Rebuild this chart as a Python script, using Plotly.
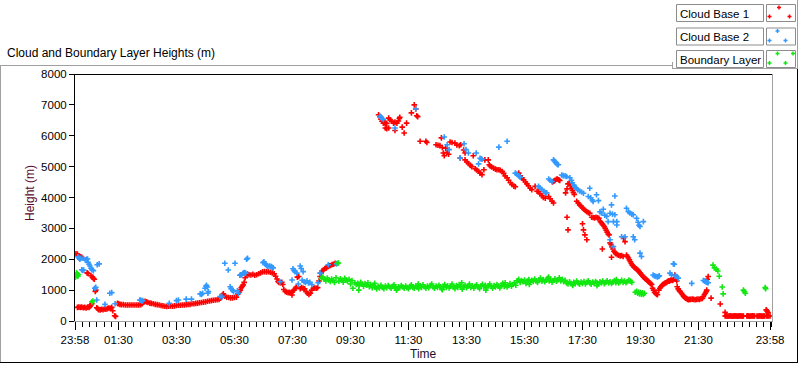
import plotly.graph_objects as go

# ---------------- data ----------------
tick_labels = ["23:58", "01:30", "03:30", "05:30", "07:30", "09:30", "11:30",
               "13:30", "15:30", "17:30", "19:30", "21:30", "23:58"]

cb1_time = [
    "00:02", "00:05", "00:08", "00:11", "00:14", "00:25", "00:27", "00:33", "00:36", "00:38", "00:40", "00:42", "00:43",
    "00:05", "00:08", "00:11", "00:14", "00:17", "00:20", "00:23", "00:26", "00:29", "00:31", "00:33", "00:35",
    "00:45", "00:47", "00:49", "00:52", "00:55", "00:58", "01:01", "01:04", "01:07", "01:10", "01:13", "01:16", "01:18", "01:22", "01:24",
    "01:28", "01:30", "01:33", "01:36", "01:40", "01:44", "01:48", "01:52", "01:56", "02:00", "02:04", "02:08", "02:12", "02:16", "02:19",
    "02:22", "02:25", "02:28", "02:31", "02:35", "02:38", "02:42", "02:46", "02:50", "02:54", "02:58", "03:02", "03:06", "03:10",
    "03:14", "03:18", "03:22", "03:26", "03:30", "03:34", "03:38", "03:42", "03:46", "03:50", "03:54", "03:58", "04:02", "04:06",
    "04:10", "04:14", "04:18", "04:22", "04:26", "04:30", "04:34", "04:38", "04:42", "04:46", "04:50", "04:54", "04:58",
    "05:01", "05:03", "05:05", "05:07", "05:10", "05:14", "05:18", "05:22", "05:26", "05:30", "05:34", "05:37", "05:40", "05:42",
    "05:44", "05:46", "05:48", "05:50", "05:52", "05:54", "05:57", "06:00", "06:04", "06:08", "06:12", "06:16", "06:20", "06:24",
    "06:28", "06:32", "06:36", "06:40", "06:44", "06:48", "06:52", "06:55", "06:58", "07:00", "07:02", "07:05", "07:08", "07:10",
    "07:12", "07:15", "07:18", "07:21", "07:24", "07:27", "07:29", "07:30", "07:33", "07:36", "07:38", "07:40", "07:43", "07:46",
    "07:49", "07:52", "07:55", "07:58", "08:01", "08:04", "08:07", "08:10", "08:13", "08:16", "08:19", "08:22", "08:25", "08:27",
    "08:29", "08:31", "08:34", "08:37", "08:40", "08:43", "08:46", "08:49", "08:52", "08:55", "08:58",
    "10:28", "10:31", "10:33", "10:35", "10:38", "10:40", "10:42", "10:45", "10:49", "10:52", "10:55", "10:59", "11:02", "11:06",
    "11:09", "11:11", "11:12", "10:42", "10:45", "10:49", "11:02", "11:17", "11:21", "11:26", "11:36", "11:42", "11:45", "11:47",
    "11:49", "11:54", "12:06", "12:08", "12:27", "12:31", "12:35", "12:38", "12:40", "12:42", "12:44", "12:47", "12:50", "12:53",
    "12:56", "13:00", "13:06", "13:10", "13:15", "13:18", "13:17", "13:24", "13:27", "13:27", "13:31", "13:34", "13:38", "13:41",
    "13:44", "13:48", "13:51", "13:55", "13:58", "14:02", "14:06", "14:08", "14:15", "14:17", "14:19", "14:22", "14:26", "14:30",
    "14:33", "14:37", "14:40", "14:44", "14:47", "14:50", "14:54", "14:57", "15:01", "15:04", "15:08", "15:11", "15:18", "15:21",
    "15:25", "15:28", "15:32", "15:35", "15:38", "15:42", "15:45", "15:52", "15:56", "15:59", "16:02", "16:06", "16:09", "16:13",
    "16:20", "16:23", "16:27", "16:30",
    "16:28", "16:31", "16:33", "16:36", "16:38", "16:41", "16:43", "16:55", "16:58", "17:00", "17:03", "17:05", "17:07", "17:09",
    "17:11", "17:13", "17:18", "17:21", "17:24", "17:27", "17:30", "17:33", "17:36", "17:39", "17:42", "17:45", "17:49", "17:52",
    "17:55", "17:58", "18:01", "18:04", "16:58", "17:00", "17:30", "17:32", "17:35", "17:39",
    "18:07", "18:09", "18:11", "18:13", "18:15", "18:17", "18:19", "18:21", "18:23", "18:25", "18:11", "18:27", "18:29", "18:31",
    "18:33", "18:35", "18:37", "18:30", "18:39", "18:42", "18:45", "18:48", "18:51", "18:54", "18:55", "18:58",
    "19:01", "19:03", "19:05", "19:07", "19:09", "19:11", "19:13", "19:15", "19:17", "19:19", "19:21", "19:23", "19:25",
    "19:27", "19:29", "19:31", "19:33", "19:35", "19:37", "19:39", "19:41", "19:43", "19:45", "19:47", "19:49", "19:51", "19:53",
    "19:55", "19:57", "19:59", "20:01", "20:03", "20:05", "20:08", "20:10", "20:12", "20:14", "20:16", "20:18", "20:20", "20:22",
    "20:24", "20:26", "20:28", "20:30", "20:32", "20:34", "20:36", "20:38", "20:41", "20:43", "20:45", "20:46", "20:48", "20:50",
    "20:52", "20:55", "20:57", "20:59", "21:01", "21:03", "21:05", "21:07", "21:09", "21:11", "21:14", "21:17", "21:20", "21:23",
    "21:26", "21:29", "21:32", "21:35", "21:38", "21:40", "21:42", "21:44", "21:46", "21:47", "21:48", "21:50", "21:56",
    "22:15", "22:25",
    "22:25", "22:27", "22:29", "22:31", "22:33", "22:35", "22:37", "22:39", "22:41", "22:43", "22:45", "22:47", "22:49", "22:51",
    "22:53", "22:55", "22:57", "22:59", "23:01", "23:03", "23:10", "23:12", "23:14", "23:16", "23:18", "23:20", "23:22", "23:24",
    "23:26", "23:31", "23:33", "23:35", "23:37", "23:39", "23:41", "23:43", "23:45", "23:47", "23:51", "23:53", "23:55", "23:58",
    "23:50", "23:52", "23:54",
]
cb1_height = [
    2180, 2170, 2100, 2080, 2060, 1560, 1540, 1470, 1420, 1380, 1350, 960, 1000,
    440, 450, 440, 450, 430, 440, 420, 450, 440, 470, 520, 560,
    430, 400, 370, 360, 380, 370, 390, 380, 400, 420, 410, 440, 330, 170, 150,
    570, 560, 540, 530, 530, 520, 520, 520, 520, 520, 520, 520, 520, 530, 560,
    610, 640, 620, 600, 580, 570, 560, 540, 530, 520, 500, 490, 480, 470,
    480, 490, 480, 490, 500, 510, 510, 520, 520, 530, 540, 540, 560, 560,
    570, 580, 590, 600, 610, 620, 640, 650, 660, 670, 680, 690, 700,
    740, 780, 840, 880, 800, 770, 760, 750, 750, 760, 770, 880, 940, 1000,
    1080, 1120, 1170, 1250, 1400, 1500, 1520, 1500, 1490, 1510, 1480, 1500, 1530, 1560,
    1590, 1600, 1590, 1600, 1580, 1560, 1530, 1450, 1360, 1280, 1250, 1240, 1250, 1180,
    1020, 960, 930, 920, 930, 910, 840, 950, 1000, 1060, 1100, 1420, 1440, 1050,
    1080, 1060, 1040, 950, 900, 860, 900, 1000, 1060, 1070, 1060, 1080, 1300, 1440,
    1550, 1620, 1650, 1700, 1720, 1760, 1790, 1800, 1830, 1840, 1870,
    6680, 6620, 6540, 6470, 6410, 6430, 6410, 6400, 6570, 6520, 6470, 6410, 6440, 6410,
    6480, 6560, 6600, 6250, 6230, 6250, 6170, 6280, 6090, 6410, 6740, 7000, 6870, 6650,
    6620, 5820, 5820, 5780, 5710, 5690, 5680, 5930, 5620, 5440, 5350, 5600, 5460, 5400,
    5800, 5780, 5760, 5700, 5680, 5710, 5280, 5540, 5440, 5220, 5150, 5100, 5040, 5000,
    5350, 4930, 4890, 4850, 4790, 4740, 4900, 5220, 5220, 5060, 5020, 4990, 4950, 4920,
    4900, 4900, 4880, 4840, 4780, 4700, 4640, 4560, 4480, 4420, 4370, 4350, 4790, 4700,
    4630, 4570, 4500, 4440, 4380, 4300, 4250, 4360, 4200, 4190, 4120, 4060, 4000, 3980,
    4030, 3960, 3880, 3820,
    4500, 4530, 4560, 4590, 4600, 4570, 4550, 4150, 4280, 4440, 4460, 4380, 4300, 4230,
    4160, 4100, 3880, 3820, 3760, 3720, 3660, 3620, 3580, 3540, 3510, 3490, 3360, 3350,
    3340, 3360, 3340, 3330, 3360, 2950, 3150, 2950, 2790, 2630,
    3220, 3180, 3140, 3100, 3060, 3000, 2940, 2880, 2820, 2790, 2330, 2530, 2480, 2400,
    2330, 2260, 2220, 2065, 2180, 2150, 2130, 2110, 2120, 2090, 2680, 2570,
    2140, 2090, 2040, 1980, 1920, 1860, 1810, 1780, 1740, 1710, 1690, 1670, 1640,
    1600, 1560, 1520, 1480, 1440, 1410, 1380, 1360, 1330, 1300, 1270, 1240, 1210, 1180,
    1060, 1000, 930, 900, 870, 850, 1000, 1060, 1110, 1150, 1180, 1200, 1220, 1240,
    1250, 1280, 1300, 1290, 1320, 1330, 1310, 1340, 1490, 1350, 1300, 1110, 1040, 990,
    950, 900, 850, 800, 770, 740, 730, 710, 690, 700, 700, 710, 700, 690,
    700, 710, 700, 720, 730, 790, 850, 900, 950, 1000, 1350, 1440, 740,
    550, 280,
    160, 165, 160, 155, 160, 165, 160, 160, 155, 160, 165, 160, 160, 155,
    160, 165, 160, 160, 155, 160, 160, 165, 160, 155, 160, 160, 165, 160,
    160, 160, 155, 160, 165, 160, 160, 155, 160, 160, 160, 165, 160, 160,
    360, 320, 270,
]

cb2_time = [
    "00:06", "00:08", "00:10", "00:12", "00:14", "00:16", "00:18", "00:17", "00:21", "00:24", "00:26", "00:27", "00:29", "00:31",
    "00:33", "00:35", "00:38", "00:41", "00:43", "00:45", "00:46", "00:50", "01:02", "01:12", "01:16", "01:23",
    "02:14", "02:16", "02:18", "02:20", "03:15", "03:30", "03:34", "03:50", "04:01",
    "04:19", "04:22", "04:24", "04:29", "04:31", "04:32", "04:34", "04:35", "04:36",
    "05:00", "05:04", "05:10", "05:17", "05:21", "05:23", "05:26", "05:28", "05:31", "05:36", "05:38", "05:41", "05:43", "05:45",
    "05:47", "05:49", "05:51", "05:53", "05:55", "05:57",
    "06:29", "06:31", "06:33", "06:35", "06:37", "06:39", "06:43", "06:46", "06:48", "06:50",
    "07:04", "07:29", "07:31", "07:33", "07:35", "07:39", "07:42", "07:46", "07:48", "07:50", "07:52", "07:54", "07:57", "08:00",
    "08:03", "08:06", "08:10", "08:23", "08:27", "08:44", "09:01",
    "10:31", "10:33", "10:35", "10:38", "11:02", "11:45", "12:44", "12:50", "12:54", "13:17", "13:25", "13:29", "13:34", "13:50",
    "13:55", "13:58", "14:00", "14:02", "14:37", "14:54", "15:11", "15:14", "15:18", "15:21", "15:59", "16:02", "16:06", "16:10",
    "16:13", "16:16", "16:20", "16:23", "16:27", "16:30", "16:32", "16:34", "16:36", "16:38", "16:40", "16:47", "16:50", "16:54",
    "16:57", "17:04", "17:07", "17:09", "17:12", "17:14", "17:17", "17:20", "17:24", "17:28", "17:32", "17:42", "17:45", "17:47",
    "17:50", "17:52", "17:59", "18:03", "18:06", "18:09", "18:13", "18:16", "18:20", "18:23", "18:27", "18:27", "18:30", "18:32",
    "18:34", "18:34", "18:37", "18:37", "18:41", "18:41", "18:51", "18:58", "19:01", "19:05", "19:08", "19:12", "19:15", "19:15",
    "19:18", "19:22", "19:25", "19:27", "19:29", "19:29", "19:32", "19:36",
    "19:56", "19:59", "20:02", "20:05", "20:07", "20:09", "20:31", "20:34", "20:38", "20:40", "20:42", "20:45", "20:48",
    "21:16", "21:40", "21:43", "21:46", "21:48", "21:50",
]
cb2_height = [
    2080, 2040, 2000, 2030, 1660, 1640, 1650, 2030, 1980, 2000, 2010, 1900, 1840, 1780,
    1710, 1660, 1630, 1060, 1090, 680, 1820, 1850, 540, 900, 920, 560,
    680, 670, 650, 660, 570, 660, 680, 710, 710,
    880, 860, 900, 1060, 1120, 1160, 1100, 900, 950,
    790, 790, 1870, 1650, 1110, 1050, 1000, 950, 1870, 980, 900, 1480, 1500, 1490,
    1540, 1560, 1570, 1550, 2000, 2030,
    1890, 1920, 1860, 1830, 1790, 1770, 1780, 1760, 1740, 1720,
    1270, 1330, 1690, 1640, 1600, 1550, 1200, 1780, 1700, 1320, 1600, 1270, 1250, 1300,
    1230, 1250, 1180, 1240, 1550, 1820, 1850,
    6640, 6600, 6560, 6530, 6250, 6870, 5960, 5710, 5550, 5280, 5740, 5550, 5440, 5440,
    5090, 5270, 5250, 5240, 5630, 5820, 4790, 4760, 4700, 4660, 4360, 4310, 4260, 4200,
    4160, 4150, 4600, 4560, 4520, 5220, 5180, 5150, 5100, 5070, 5060, 4730, 4710, 4700,
    4680, 4640, 4560, 4480, 4400, 4350, 4300, 4250, 4210, 4180, 4140, 4030, 4300, 3990,
    3920, 3870, 4090, 3900, 3540, 3500, 3620, 3430, 3390, 3220, 2630, 3490, 3760, 3460,
    3220, 2410, 3440, 4050, 3110, 3220, 2730, 2730, 3650, 3540, 3500, 3460, 3440, 2730,
    2630, 3330, 3200, 3100, 3060, 2200, 2090, 3220,
    1490, 1460, 1440, 1430, 1440, 1460, 1550, 1500, 1850, 1840, 1470, 1440, 1390,
    1220, 1310, 1290, 1260, 1250, 1240,
]

bl_time = [
    "00:01", "00:02", "00:03", "00:04", "00:05", "00:06", "00:07", "00:35", "00:37",
    "08:30", "08:33", "08:36", "08:39", "08:42", "08:45", "08:48", "08:51", "08:54", "08:57", "09:00", "09:03", "09:05",
    "09:06", "09:09", "09:12", "09:15", "09:18", "09:21", "09:24", "09:27", "09:30", "09:33", "09:35", "09:39", "09:42",
    "09:45", "09:48", "09:51", "09:54", "09:57", "10:00", "10:03", "10:06", "10:09", "10:12", "10:15", "10:18", "10:21",
    "10:24", "10:27", "10:30", "10:33", "10:36", "10:39", "10:42", "10:45", "10:48", "10:51", "10:54", "10:57", "11:00",
    "11:03", "11:06", "11:09", "11:12", "11:15", "11:18", "11:21", "11:24", "11:27", "11:30", "11:33", "11:36", "11:39",
    "11:42", "11:45", "11:48", "11:51", "11:54", "11:57", "12:00", "12:03", "12:06", "12:09", "12:12", "12:15", "12:18",
    "12:21", "12:24", "12:27", "12:30", "12:33", "12:36", "12:39", "12:42", "12:45", "12:48", "12:51", "12:54", "12:57",
    "13:00", "13:03", "13:06", "13:09", "13:12", "13:15", "13:18", "13:21", "13:24", "13:27", "13:30", "13:33", "13:36",
    "13:39", "13:42", "13:45", "13:48", "13:51", "13:54", "13:57", "14:00", "14:03", "14:06", "14:09", "14:12", "14:15",
    "14:18", "14:21", "14:24", "14:27", "14:30", "14:33", "14:36", "14:39", "14:42", "14:45", "14:48", "14:51", "14:54",
    "14:57", "15:00", "15:03", "15:06", "15:09", "15:12", "15:15", "15:18", "15:21", "15:24", "15:27", "15:30", "15:33",
    "15:36", "15:39", "15:42", "15:45", "15:48", "15:51", "15:54", "15:57", "16:00", "16:03", "16:06", "16:09", "16:12",
    "16:15", "16:18", "16:21", "16:24", "16:27", "16:30", "16:33", "16:36", "16:39", "16:42", "16:45", "16:48", "16:51",
    "16:54", "16:57", "17:00", "17:03", "17:06", "17:09", "17:12", "17:15", "17:18", "17:21", "17:24", "17:27", "17:30",
    "17:33", "17:36", "17:39", "17:42", "17:45", "17:48", "17:51", "17:54", "17:57", "18:00", "18:03", "18:06", "18:09",
    "18:12", "18:15", "18:18", "18:21", "18:24", "18:27", "18:30", "18:33", "18:36", "18:39", "18:42", "18:45", "18:48",
    "18:51", "18:54", "18:57", "19:00", "19:03", "19:06", "19:09", "19:12",
    "19:19", "19:22", "19:24", "19:26", "19:28", "19:30", "19:32", "19:34", "19:36", "19:38",
    "22:00", "22:03", "22:07", "22:10", "22:13", "22:19", "22:21", "23:03", "23:05", "23:07", "23:48", "23:49",
    "09:47", "10:20", "11:05", "11:50", "12:40", "13:20", "14:10", "14:50", "15:40", "16:20", "17:10", "18:00", "18:40",
]
bl_height = [
    1420, 1500, 1560, 1470, 1530, 1450, 1500, 620, 650,
    1380, 1420, 1350, 1300, 1390, 1330, 1280, 1360, 1310, 1250, 1400, 1870, 1880,
    1290, 1370, 1320, 1260, 1380, 1330, 1290, 1350, 1200, 1310, 1060, 1240, 1180,
    1220, 1140, 1250, 1190, 1130, 1210, 1160, 1240, 1110, 1180, 1080, 1150, 1100,
    1040, 1120, 1070, 1160, 1090, 1050, 1130, 1080, 1150, 1100, 1060, 1120, 1170,
    1090, 1040, 1110, 1080, 1150, 1100, 1060, 1130, 1080, 1050, 1120, 1170, 1090,
    1060, 1130, 1100, 1050, 1140, 1090, 1170, 1110, 1060, 1130, 1080, 1150, 1200,
    1100, 1060, 1130, 1090, 1160, 1110, 1040, 1120, 1180, 1090, 1140, 1070, 1120,
    1200, 1100, 1050, 1150, 1090, 1180, 1120, 1030, 1110, 1160, 1080, 1130, 1200,
    1090, 1140, 1060, 1120, 1170, 1100, 1050, 1130, 1190, 1110, 1160, 1080, 1140,
    1200, 1120, 1060, 1150, 1100, 1180, 1130, 1070, 1160, 1220, 1120, 1170, 1100,
    1150, 1210, 1130, 1180, 1240, 1160, 1300, 1350, 1250, 1310, 1270, 1330, 1220,
    1290, 1340, 1260, 1320, 1280, 1360, 1300, 1250, 1330, 1390, 1290, 1340, 1270,
    1320, 1380, 1300, 1350, 1260, 1310, 1370, 1290, 1330, 1400, 1300, 1350, 1270,
    1320, 1230, 1200, 1270, 1220, 1180, 1250, 1210, 1290, 1230, 1190, 1260, 1220,
    1280, 1200, 1250, 1300, 1230, 1190, 1260, 1220, 1280, 1240, 1200, 1270, 1230,
    1290, 1210, 1250, 1300, 1230, 1270, 1220, 1260, 1310, 1240, 1280, 1230, 1270,
    1320, 1250, 1290, 1240, 1280, 1330, 1290, 1250,
    930, 960, 900, 940, 880, 920, 870, 910, 860, 900,
    1810, 1720, 1680, 1620, 1450, 1100, 880, 1000, 950, 900, 1080, 1050,
    1000, 1220, 1000, 1200, 1010, 1240, 1000, 1240, 1180, 1420, 1150, 1140, 1340,
]

legend_names = ["Cloud Base 1", "Cloud Base 2", "Boundary Layer"]
colors = ["#ff0000", "#3399ff", "#11e811"]


def to_hours(t):
    h, m = t.split(":")
    return int(h) + int(m) / 60.0


tick_vals = [0.0] + [to_hours(t) for t in tick_labels[1:-1]] + [to_hours(tick_labels[-1])]

# ---------------- figure ----------------
W, H = 800, 365
PL, PR, PT, PB = 75, 773, 74, 321
FONT = "Liberation Sans"

fig = go.Figure()
for name, tl, hl, c in zip(legend_names, [cb1_time, cb2_time, bl_time],
                           [cb1_height, cb2_height, bl_height], colors):
    fig.add_trace(go.Scatter(
        x=[to_hours(t) for t in tl], y=hl, mode="markers", name=name,
        marker=dict(symbol="cross-thin", size=4, color=c, line=dict(color=c, width=1.6)),
        showlegend=False, cliponaxis=True,
    ))


def px(x):
    return (x - PL) / (PR - PL)


def py(y):
    return (PB - y) / (PB - PT)


shapes = []


def line(x0, y0, x1, y1, color, width=1):
    shapes.append(dict(type="line", xref="paper", yref="paper",
                       x0=px(x0), y0=py(y0), x1=px(x1), y1=py(y1),
                       line=dict(color=color, width=width), layer="above"))


def rect(x0, y0, x1, y1, color):
    shapes.append(dict(type="rect", xref="paper", yref="paper",
                       x0=px(x0), y0=py(y0), x1=px(x1), y1=py(y1),
                       line=dict(color=color, width=1), fillcolor="white", layer="above"))


GRAY = "#a0a0a0"
# plot frame (top black, right gray)
line(PL, PT + 0.5, PR, PT + 0.5, "black")
line(PR - 0.5, PT, PR - 0.5, PB + 1, GRAY)
# outer panel
line(0, 65.5, 672, 65.5, GRAY)
line(0.5, 65.5, 0.5, 363, GRAY)
line(0, 362.5, 798, 362.5, "black")
line(797.5, 68, 797.5, 363, "black")
# legend panel
line(672, 68.5, 798, 68.5, GRAY)
line(672.5, 62, 672.5, 68.5, GRAY)
line(797.5, 0, 797.5, 68.5, GRAY)

annotations = []
box_tops = [4, 27.5, 50]
icon_pts = [
    [(779, 7.5), (769.5, 16.5), (789.5, 16.5)],
    [(777.5, 31), (769.5, 40.5), (785.5, 40.5)],
    [(777.5, 53.5), (793, 53.5), (769.5, 63), (785.5, 63)],
]
for name, c, top, pts in zip(legend_names, colors, box_tops, icon_pts):
    rect(676.5, top + 0.5, 763.5, top + 17.5, "#8c8c8c")
    rect(766.5, top + 0.5, 795.5, top + 17.5, "#8c8c8c")
    annotations.append(dict(text=name, xref="paper", yref="paper", x=px(678), y=py(top + 9.5),
                            xanchor="left", yanchor="middle", showarrow=False,
                            font=dict(family=FONT, size=11.5, color="black")))
    for (cx, cy) in pts:
        line(cx - 2, cy, cx + 2, cy, c, 1.5)
        line(cx, cy - 2, cx, cy + 2, c, 1.5)

annotations.append(dict(text="Cloud and Boundary Layer Heights (m)", xref="paper", yref="paper",
                        x=px(5), y=py(53), xanchor="left", yanchor="middle", showarrow=False,
                        font=dict(family=FONT, size=12, color="black")))
annotations.append(dict(text="Height (m)", xref="paper", yref="paper", textangle=-90,
                        x=px(30), y=py(193), xanchor="center", yanchor="middle", showarrow=False,
                        font=dict(family=FONT, size=12, color="#5a0a2a")))
annotations.append(dict(text="Time", xref="paper", yref="paper",
                        x=px(423), y=py(354), xanchor="center", yanchor="middle", showarrow=False,
                        font=dict(family=FONT, size=12, color="#1a1030")))

fig.update_layout(
    width=W, height=H, autosize=False,
    margin=dict(l=PL, r=W - PR, t=PT, b=H - PB, pad=0),
    paper_bgcolor="white", plot_bgcolor="white",
    showlegend=False,
    shapes=shapes, annotations=annotations,
    font=dict(family=FONT, size=11, color="black"),
    xaxis=dict(range=[0, (PR - PL) / 29.0], tickmode="array", tickvals=tick_vals, ticktext=tick_labels,
               ticks="outside", ticklen=8, tickcolor="black", tickwidth=1,
               showline=True, linecolor=GRAY, linewidth=1, showgrid=False, zeroline=False,
               tickfont=dict(family=FONT, size=11.5, color="black"),
               minor=dict(tickmode="linear", tick0=0, dtick=0.25, ticks="outside", ticklen=5,
                          tickcolor="black", tickwidth=1, showgrid=False),
               fixedrange=True),
    yaxis=dict(range=[0, 8000], tickmode="linear", tick0=0, dtick=1000,
               ticks="outside", ticklen=5, tickcolor="black", tickwidth=1,
               showline=True, linecolor="black", linewidth=1, showgrid=False, zeroline=False,
               tickfont=dict(family=FONT, size=11.5, color="black"),
               fixedrange=True),
)

fig.write_html("out.html", config={"displayModeBar": False},
               post_script="document.body.style.margin='0';document.body.style.overflow='hidden';")
